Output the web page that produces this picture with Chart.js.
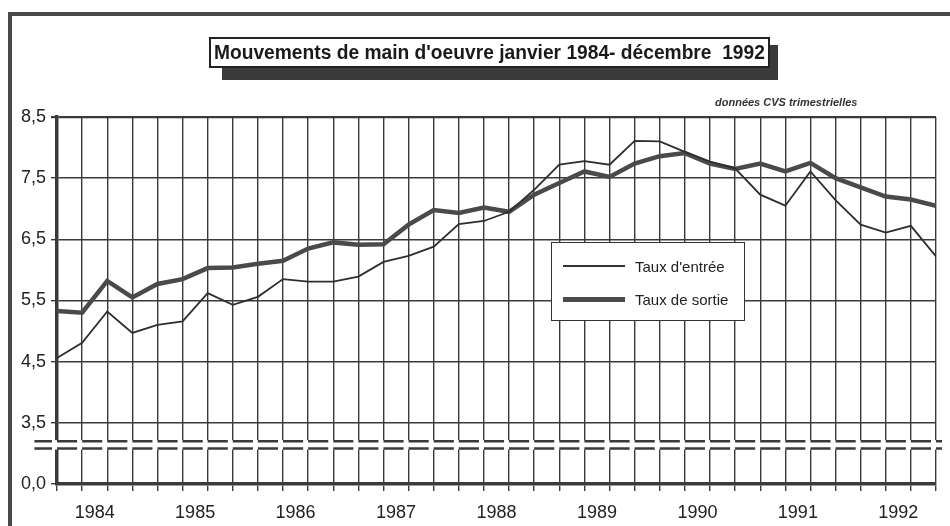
<!DOCTYPE html>
<html>
<head>
<meta charset="utf-8">
<script src="https://cdn.jsdelivr.net/npm/chart.js@4.4.1/dist/chart.umd.min.js"></script>
<style>
  body { margin: 0; background: #fff; }
  #wrap { position: relative; width: 950px; height: 526px; overflow: hidden; }
  #frame { position: absolute; left: 8px; top: 12px; width: 960px; height: 540px;
           border-left: 4px solid #4a4a4a; border-top: 4px solid #4a4a4a; }
  #shadow { position: absolute; left: 222px; top: 45px; width: 556px; height: 35px; background: #3a3a3a; }
  #title { position: absolute; left: 209px; top: 37px; width: 557px; height: 27px; background: #fff;
           border: 2px solid #222; overflow: hidden; }
  #titleText { position: absolute; left: 3px; top: 0; font: bold 20px "Liberation Sans", Arial, sans-serif;
               color: #1a1a1a; line-height: 27px; white-space: nowrap; transform-origin: 0 50%; }
  #note { position: absolute; left: 715px; top: 96px; font: italic bold 11px "Liberation Sans", Arial, sans-serif; color: #333; }
  #legend { position: absolute; left: 551px; top: 242px; width: 192px; height: 77px; background: #fff;
            border: 1.5px solid #333; font: 15px "Liberation Sans", Arial, sans-serif; color: #222; }
  .row { position: absolute; left: 11px; height: 20px; display: flex; align-items: center; }
  .sw { width: 62px; background: #333; margin-right: 10px; }
  canvas { position: absolute; left: 0; top: 0; }
</style>
</head>
<body>
<div id="wrap">
  <canvas id="chart" width="950" height="526"></canvas>
  <div id="frame"></div>
  <div id="shadow"></div>
  <div id="title"><span id="titleText">Mouvements de main d'oeuvre janvier 1984- décembre&nbsp; 1992</span></div>
  <div id="note">données CVS trimestrielles</div>
  <div id="legend">
    <div class="row" style="top:13px"><div class="sw" style="height:2px"></div>Taux d'entrée</div>
    <div class="row" style="top:46px"><div class="sw" style="height:5px;background:#4a4a4a"></div>Taux de sortie</div>
  </div>
</div>
<script>
// quarterly data, 1984 T1 .. 1992 T4
const years = ['1984', '1985', '1986', '1987', '1988', '1989', '1990', '1991', '1992'];
const tauxEntree = [4.56, 4.81, 5.32, 4.97, 5.10, 5.16, 5.62, 5.43, 5.56, 5.85, 5.81, 5.81,
                    5.89, 6.13, 6.23, 6.38, 6.75, 6.80, 6.95, 7.31, 7.72, 7.78, 7.72, 8.11,
                    8.10, 7.93, 7.77, 7.66, 7.23, 7.05, 7.61, 7.14, 6.74, 6.61, 6.72, 6.22];
const tauxSortie = [5.33, 5.30, 5.82, 5.55, 5.77, 5.85, 6.03, 6.04, 6.10, 6.15, 6.35, 6.45,
                    6.41, 6.42, 6.74, 6.98, 6.93, 7.02, 6.95, 7.23, 7.42, 7.61, 7.52, 7.74,
                    7.86, 7.91, 7.74, 7.65, 7.74, 7.61, 7.75, 7.50, 7.35, 7.20, 7.15, 7.05];
// 2.5 on the scale is shown as 0,0 (axis break)
const yTicks = [2.5, 3.5, 4.5, 5.5, 6.5, 7.5, 8.5];
const yTickLabels = ['0,0', '3,5', '4,5', '5,5', '6,5', '7,5', '8,5'];

// squeeze the title into its box (narrow font look)
const tt = document.getElementById('titleText');
tt.style.transform = 'scaleX(' + (551 / tt.offsetWidth) + ')';

const toPoints = arr => arr.map((v, i) => ({ x: i, y: v }));
const axisFont = { family: 'Liberation Sans, Arial, sans-serif', size: 18 };
const ink = '#3a3a3a';

// white band with double dashed line between 3,5 and 0,0
const breakPlugin = {
    id: 'axisBreak',
    afterDatasetsDraw(chart) {
        const { ctx, chartArea, scales } = chart;
        const yTop = scales.y.getPixelForValue(3.2);
        const yBot = scales.y.getPixelForValue(3.08);
        const step = scales.x.getPixelForValue(1) - scales.x.getPixelForValue(0);
        ctx.save();
        ctx.fillStyle = '#fff';
        ctx.fillRect(chartArea.left - 12, yTop - 1, chartArea.right - chartArea.left + 20, yBot - yTop + 2);
        ctx.strokeStyle = ink;
        ctx.lineWidth = 2.5;
        ctx.setLineDash([step - 5, 5]);
        ctx.lineDashOffset = -(step - 2.5);
        [yTop, yBot].forEach(y => {
            ctx.beginPath();
            ctx.moveTo(chartArea.left - step + 2.5, y);
            ctx.lineTo(chartArea.right + 6, y);
            ctx.stroke();
        });
        ctx.restore();
    }
};

new Chart(document.getElementById('chart'), {
    type: 'line',
    data: {
        datasets: [{
            label: "Taux d'entrée",
            data: toPoints(tauxEntree),
            borderColor: '#2e2e2e',
            borderWidth: 1.8,
            pointRadius: 0,
            tension: 0
        }, {
            label: 'Taux de sortie',
            data: toPoints(tauxSortie),
            borderColor: '#4a4a4a',
            borderWidth: 4.5,
            pointRadius: 0,
            tension: 0
        }]
    },
    options: {
        responsive: false,
        animation: false,
        layout: { padding: { top: 117, right: 14, left: 0, bottom: 0 } },
        plugins: { legend: { display: false }, tooltip: { enabled: false } },
        scales: {
            x: {
                type: 'linear', min: 0, max: 35,
                ticks: { stepSize: 1, callback: () => '' },
                grid: { color: ink, lineWidth: 1.4, tickLength: 7 },
                border: { color: ink, width: 3.5 },
                afterFit: s => { s.height = 8; }
            },
            yr: {
                type: 'linear', position: 'bottom', min: 0, max: 35,
                grid: { display: false }, border: { display: false },
                afterBuildTicks: s => { s.ticks = years.map((y, k) => ({ value: 1.5 + 4 * k })); },
                ticks: { autoSkip: false, maxRotation: 0, color: '#222', font: axisFont, padding: 2,
                         callback: (v, i) => years[i] },
                afterFit: s => { s.height = 34; }
            },
            y: {
                min: 2.5, max: 8.5,
                afterBuildTicks: s => { s.ticks = yTicks.map(v => ({ value: v })); },
                ticks: { color: '#222', font: axisFont, padding: 5,
                         callback: (v, i) => yTickLabels[i] },
                grid: { color: ink, tickLength: 6,
                        lineWidth: c => (c.tick && c.tick.value === 8.5 ? 2.2 : 1.4) },
                border: { color: ink, width: 3.5 },
                afterFit: s => { s.width = 57; }
            }
        }
    },
    plugins: [breakPlugin]
});
</script>
</body>
</html>
